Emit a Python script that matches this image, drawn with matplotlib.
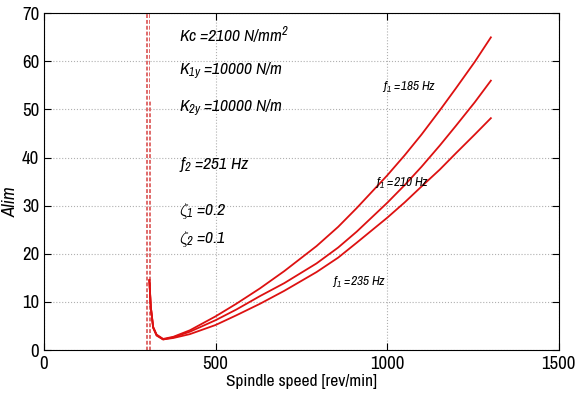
"""Stability lobe envelope: limiting depth of cut vs spindle speed."""

import matplotlib
matplotlib.use("Agg")
import matplotlib.pyplot as plt
from matplotlib import font_manager

# --- Data: limiting depth (Alim) for three first-mode frequencies ---
speed = [307, 311, 318, 328, 347, 377, 425, 500, 560, 629, 700, 794, 857,
         911, 1000, 1051, 1100, 1153, 1200, 1255, 1302]
alim_185 = [14.5, 9.0, 4.8, 3.2, 2.3, 2.75, 4.1, 7.0, 9.6, 12.8, 16.4, 21.6, 25.6,
            29.5, 36.3, 40.5, 44.8, 49.8, 54.4, 59.9, 65.0]
alim_210 = [14.5, 9.0, 4.7, 3.1, 2.2, 2.65, 3.8, 6.2, 8.4, 11.2, 13.9, 18.0, 21.3,
            24.6, 30.6, 34.3, 38.1, 42.5, 46.6, 51.5, 56.0]
alim_235 = [14.5, 9.0, 4.6, 3.0, 2.2, 2.5, 3.3, 5.2, 7.2, 9.6, 12.3, 16.2, 19.2,
            22.3, 27.5, 30.7, 34.0, 37.5, 40.9, 44.8, 48.2]

# asymptotes near the lower speed bound (dashed)
asym_speed = [296, 300, 305, 309]
asym_top = [70, 70, 70, 52]

curve_labels = ["$f_1$ =185 Hz", "$f_1$ =210 Hz", "$f_1$ =235 Hz"]
label_pos = [(985, 54.5), (964, 34.7), (839, 14.1)]

params = [
    ("$Kc$ =2100 N/mm$^2$", 65.5),
    ("$K_{1y}$ =10000 N/m", 58.0),
    ("$K_{2y}$ =10000 N/m", 50.3),
    ("$f_2$ =251 Hz", 38.5),
    ("$\\zeta_1$ =0.2", 29.0),
    ("$\\zeta_2$ =0.1", 23.0),
]

# prefer a condensed sans if one is installed
names = sorted({f.name for f in font_manager.fontManager.ttflist})
narrow = [n for n in names if "Narrow" in n or "Condensed" in n]
family = narrow[0] if narrow else "Liberation Sans"
plt.rcParams["font.family"] = [family, "DejaVu Sans"]
plt.rcParams["mathtext.fontset"] = "custom"
plt.rcParams["mathtext.it"] = f"{family}:italic"
plt.rcParams["mathtext.rm"] = f"{family}:italic"


def main() -> None:
    fig = plt.figure(figsize=(5.87, 3.98), dpi=100)
    ax = fig.add_axes([0.075, 0.1206, 0.877, 0.846])

    for xs, top in zip(asym_speed, asym_top):
        ax.plot([xs, xs], [0, top], color="#e06a6a", lw=0.7, ls=(0, (4, 2)))

    for vals in (alim_185, alim_210, alim_235):
        ax.plot(speed, vals, color="#dd1111", lw=1.3)

    for txt, (x, y) in zip(curve_labels, label_pos):
        ax.text(x, y, txt, fontsize=9.5, style="italic", va="center", ha="left")

    for txt, y in params:
        ax.text(392, y, txt, fontsize=12.5, style="italic", va="center", ha="left")

    ax.set_xlim(0, 1500)
    ax.set_ylim(0, 70)
    ax.set_xticks([0, 500, 1000, 1500])
    ax.set_yticks(range(0, 71, 10))
    ax.tick_params(direction="in", labelsize=13.5, length=5, top=True, right=True)
    ax.tick_params(axis="x", pad=4)
    ax.grid(True, ls=":", color="#b0b0b0", lw=0.8)
    ax.set_axisbelow(True)
    ax.set_xlabel("Spindle speed [rev/min]", fontsize=12.5, labelpad=2)
    ax.set_ylabel("Alim", fontsize=13.5, style="italic")
    ax.yaxis.set_label_coords(-0.05, 0.44)

    fig.savefig("out.png", dpi=100)
    plt.close(fig)


if __name__ == "__main__":
    main()
